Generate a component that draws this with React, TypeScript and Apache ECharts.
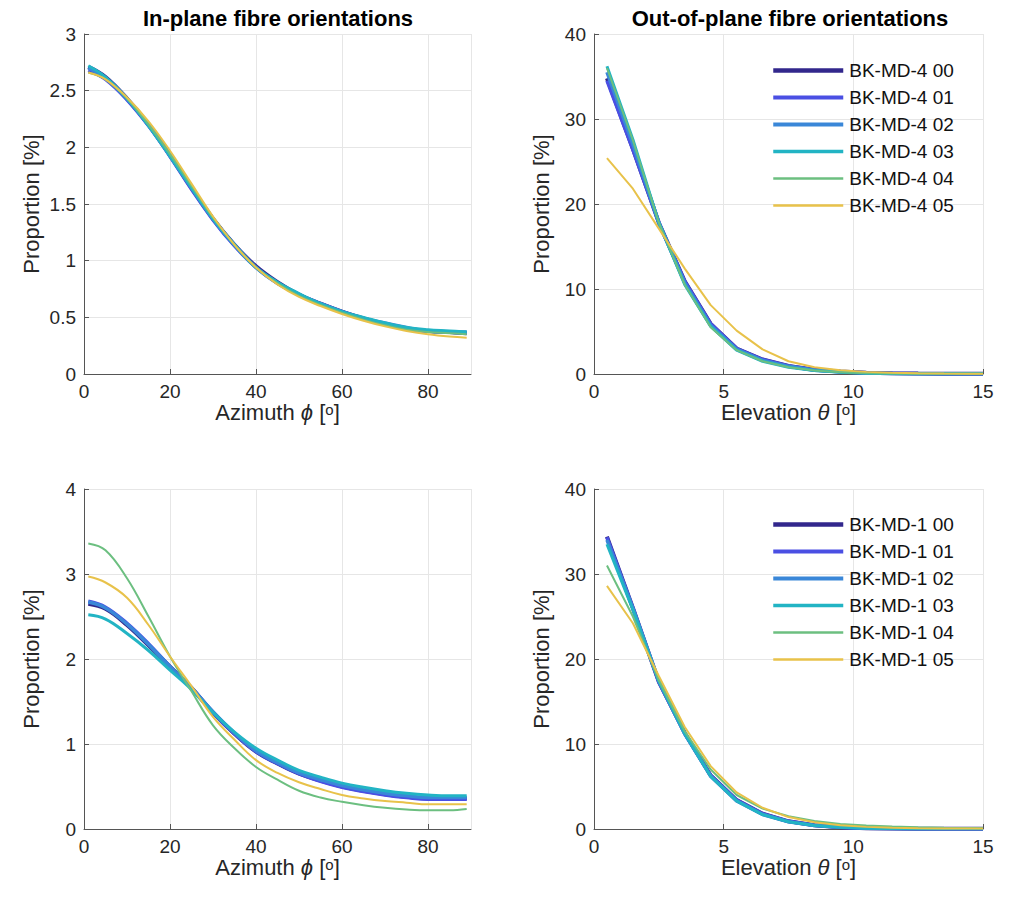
import React, { useEffect, useRef } from "react";
import * as echarts from "echarts";

// ---------- data ----------
const azimuth = [1, 5, 10, 15, 20, 25, 30, 35, 40, 45, 50, 55, 60, 65, 70, 75, 80, 85, 89];
const elevation = [0.5, 1.5, 2.5, 3.5, 4.5, 5.5, 6.5, 7.5, 8.5, 9.5, 10.5, 11.5, 12.5, 13.5, 14.5, 15];

const md4Names = ["BK-MD-4 00", "BK-MD-4 01", "BK-MD-4 02", "BK-MD-4 03", "BK-MD-4 04", "BK-MD-4 05"];
const md1Names = ["BK-MD-1 00", "BK-MD-1 01", "BK-MD-1 02", "BK-MD-1 03", "BK-MD-1 04", "BK-MD-1 05"];

// In-plane, BK-MD-4
const md4In00 = [2.71, 2.62, 2.43, 2.2, 1.93, 1.64, 1.37, 1.14, 0.95, 0.81, 0.7, 0.62, 0.55, 0.49, 0.44, 0.4, 0.38, 0.37, 0.36];
const md4In01 = [2.68, 2.6, 2.42, 2.19, 1.92, 1.63, 1.36, 1.13, 0.94, 0.8, 0.7, 0.62, 0.55, 0.49, 0.44, 0.4, 0.38, 0.37, 0.36];
const md4In02 = [2.7, 2.61, 2.43, 2.2, 1.93, 1.65, 1.37, 1.14, 0.94, 0.8, 0.7, 0.62, 0.55, 0.49, 0.45, 0.41, 0.38, 0.37, 0.37];
const md4In03 = [2.72, 2.62, 2.43, 2.19, 1.92, 1.64, 1.37, 1.14, 0.94, 0.81, 0.71, 0.62, 0.55, 0.5, 0.45, 0.41, 0.39, 0.38, 0.37];
const md4In04 = [2.66, 2.6, 2.43, 2.2, 1.94, 1.66, 1.38, 1.14, 0.94, 0.8, 0.69, 0.61, 0.54, 0.48, 0.43, 0.39, 0.37, 0.36, 0.35];
const md4In05 = [2.66, 2.6, 2.44, 2.23, 1.97, 1.68, 1.39, 1.14, 0.94, 0.79, 0.68, 0.6, 0.53, 0.47, 0.42, 0.38, 0.35, 0.33, 0.32];

// Out-of-plane, BK-MD-4
const md4Out00 = [34.8, 26.5, 17.8, 10.9, 5.9, 3.0, 1.7, 0.95, 0.5, 0.3, 0.15, 0.08, 0.05, 0.03, 0.02, 0.02];
const md4Out01 = [34.5, 26.4, 17.8, 10.9, 5.9, 3.0, 1.7, 0.95, 0.5, 0.3, 0.15, 0.08, 0.05, 0.03, 0.02, 0.02];
const md4Out02 = [35.5, 27.0, 17.8, 10.7, 5.7, 2.9, 1.6, 0.9, 0.45, 0.25, 0.12, 0.07, 0.04, 0.03, 0.02, 0.02];
const md4Out03 = [36.2, 27.6, 17.8, 10.5, 5.6, 2.8, 1.5, 0.8, 0.4, 0.2, 0.1, 0.06, 0.04, 0.03, 0.02, 0.02];
const md4Out04 = [36.0, 27.5, 17.8, 10.5, 5.5, 2.8, 1.5, 0.8, 0.4, 0.2, 0.1, 0.06, 0.04, 0.03, 0.02, 0.02];
const md4Out05 = [25.4, 21.8, 17.1, 12.4, 8.1, 5.1, 2.9, 1.5, 0.8, 0.45, 0.25, 0.15, 0.08, 0.05, 0.04, 0.03];

// In-plane, BK-MD-1
const md1In00 = [2.65, 2.59, 2.4, 2.16, 1.91, 1.66, 1.37, 1.12, 0.91, 0.77, 0.65, 0.57, 0.5, 0.45, 0.41, 0.38, 0.36, 0.36, 0.36];
const md1In01 = [2.68, 2.61, 2.42, 2.18, 1.91, 1.66, 1.37, 1.12, 0.91, 0.77, 0.65, 0.56, 0.49, 0.44, 0.4, 0.37, 0.35, 0.35, 0.35];
const md1In02 = [2.67, 2.6, 2.41, 2.17, 1.91, 1.66, 1.38, 1.13, 0.92, 0.78, 0.66, 0.58, 0.51, 0.46, 0.42, 0.39, 0.37, 0.37, 0.37];
const md1In03 = [2.52, 2.47, 2.3, 2.1, 1.87, 1.64, 1.37, 1.14, 0.95, 0.81, 0.69, 0.61, 0.54, 0.49, 0.45, 0.42, 0.4, 0.39, 0.39];
const md1In04 = [3.36, 3.28, 2.95, 2.5, 2.03, 1.62, 1.22, 0.95, 0.73, 0.58, 0.45, 0.37, 0.32, 0.28, 0.25, 0.23, 0.22, 0.22, 0.235];
const md1In05 = [2.97, 2.9, 2.72, 2.4, 2.03, 1.68, 1.32, 1.05, 0.81, 0.66, 0.55, 0.47, 0.4, 0.36, 0.33, 0.31, 0.29, 0.29, 0.29];

// Out-of-plane, BK-MD-1
const md1Out00 = [34.4, 26.0, 17.3, 11.3, 6.3, 3.4, 1.8, 0.9, 0.45, 0.2, 0.1, 0.06, 0.04, 0.03, 0.02, 0.02];
const md1Out01 = [34.3, 26.0, 17.3, 11.2, 6.3, 3.4, 1.8, 0.9, 0.45, 0.2, 0.1, 0.06, 0.04, 0.03, 0.02, 0.02];
const md1Out02 = [34.0, 26.0, 17.4, 11.2, 6.2, 3.3, 1.7, 0.85, 0.4, 0.2, 0.1, 0.06, 0.04, 0.03, 0.02, 0.02];
const md1Out03 = [33.5, 25.8, 17.4, 11.2, 6.2, 3.3, 1.7, 0.85, 0.4, 0.2, 0.1, 0.06, 0.04, 0.03, 0.02, 0.02];
const md1Out04 = [31.0, 25.0, 17.5, 11.5, 7.0, 4.0, 2.4, 1.5, 0.95, 0.6, 0.4, 0.28, 0.2, 0.15, 0.12, 0.1];
const md1Out05 = [28.6, 24.2, 18.0, 12.0, 7.4, 4.3, 2.5, 1.4, 0.8, 0.45, 0.25, 0.15, 0.1, 0.07, 0.05, 0.05];

const colors = ["#32278c", "#4a4fe3", "#3a87d8", "#22b4c4", "#6cbf80", "#e8c24a"];
const widths = [4, 3.5, 3.5, 3, 2, 2];

const titles = ["In-plane fibre orientations", "Out-of-plane fibre orientations"];

// ---------- layout ----------
const FONT = "'Liberation Sans', Arial, Helvetica, sans-serif";
const TXT = "#262626";
const grids = [
  { left: 84, top: 34, width: 387, height: 340 },
  { left: 594, top: 34, width: 389, height: 340 },
  { left: 84, top: 489, width: 387, height: 340 },
  { left: 594, top: 489, width: 389, height: 340 },
];

const nameRich = {
  n: { fontSize: 22, color: TXT, fontFamily: FONT },
  i: { fontSize: 22, color: TXT, fontFamily: FONT, fontStyle: "italic" },
  s: { fontSize: 15, color: TXT, fontFamily: FONT, verticalAlign: "top", lineHeight: 14, padding: [0, 0, 10, 0] },
};

function xAxisOpt(gridIndex: number, max: number, interval: number, nameText: string) {
  return {
    type: "value",
    gridIndex,
    min: 0,
    max,
    interval,
    name: nameText,
    nameLocation: "middle",
    nameGap: 18,
    nameTextStyle: { rich: nameRich },
    axisLine: { show: true, onZero: false, lineStyle: { color: "#555", width: 1 } },
    axisTick: { show: true, inside: true, length: 5, lineStyle: { color: "#555" } },
    axisLabel: { showMaxLabel: max % interval === 0, fontSize: 19, color: TXT, fontFamily: FONT, margin: 8 },
    splitLine: { show: true, lineStyle: { color: "#e6e6e6", width: 1 } },
  };
}

function yAxisOpt(gridIndex: number, max: number, interval: number) {
  return {
    type: "value",
    gridIndex,
    min: 0,
    max,
    interval,
    name: "Proportion [%]",
    nameLocation: "middle",
    nameGap: 42,
    nameTextStyle: { fontSize: 22, color: TXT, fontFamily: FONT },
    axisLine: { show: true, lineStyle: { color: "#555", width: 1 } },
    axisTick: { show: true, inside: true, length: 5, lineStyle: { color: "#555" } },
    axisLabel: { fontSize: 19, color: TXT, fontFamily: FONT, margin: 8 },
    splitLine: { show: true, lineStyle: { color: "#e6e6e6", width: 1 } },
  };
}

function mkSeries(names: string[], xs: number[], ys: number[][], axisIndex: number, smooth: boolean | number) {
  return ys.map((arr, k) => ({
    name: names[k],
    type: "line",
    xAxisIndex: axisIndex,
    yAxisIndex: axisIndex,
    data: xs.map((x, j) => [x, arr[j]]),
    showSymbol: false,
    symbol: "none",
    smooth,
    color: colors[k],
    lineStyle: { color: colors[k], width: widths[k] },
    emphasis: { disabled: true },
  }));
}

function legendData(names: string[]) {
  return names.map((n, k) => ({ name: n, lineStyle: { color: colors[k], width: widths[k] + 0.5 } }));
}

export default function App() {
  const ref = useRef<HTMLDivElement>(null);
  useEffect(() => {
    if (!ref.current) return;
    const chart = echarts.init(ref.current, undefined, { renderer: "svg" });
    const azName = "{n|Azimuth }{i|ϕ}{n| [}{s|o}{n|]}";
    const elName = "{n|Elevation }{i|θ}{n| [}{s|o}{n|]}";
    const legendCommon = {
      orient: "vertical",
      left: 771,
      padding: 0,
      itemWidth: 70,
      itemHeight: 17,
      itemGap: 8,
      itemStyle: { opacity: 0 },
      textStyle: { fontSize: 19, color: "#111", fontFamily: FONT, padding: [0, 0, 0, 1] },
      selectedMode: false,
    };
    chart.setOption({
      animation: false,
      backgroundColor: "#ffffff",
      grid: grids,
      xAxis: [
        xAxisOpt(0, 90, 20, azName),
        xAxisOpt(1, 15, 5, elName),
        xAxisOpt(2, 90, 20, azName),
        xAxisOpt(3, 15, 5, elName),
      ],
      yAxis: [yAxisOpt(0, 3, 0.5), yAxisOpt(1, 40, 10), yAxisOpt(2, 4, 1), yAxisOpt(3, 40, 10)],
      legend: [
        { ...legendCommon, top: 61, data: legendData(md4Names) },
        { ...legendCommon, top: 515, data: legendData(md1Names) },
      ],
      graphic: [
        {
          type: "text",
          x: 278,
          y: 18,
          style: { text: titles[0], fontSize: 22, fontWeight: "bold", fontFamily: FONT, fill: "#000", textAlign: "center", textVerticalAlign: "middle" },
        },
        {
          type: "text",
          x: 790,
          y: 18,
          style: { text: titles[1], fontSize: 22, fontWeight: "bold", fontFamily: FONT, fill: "#000", textAlign: "center", textVerticalAlign: "middle" },
        },
      ],
      series: [
        ...mkSeries(md4Names, azimuth, [md4In00, md4In01, md4In02, md4In03, md4In04, md4In05], 0, 0.4),
        ...mkSeries(md4Names, elevation, [md4Out00, md4Out01, md4Out02, md4Out03, md4Out04, md4Out05], 1, false),
        ...mkSeries(md1Names, azimuth, [md1In00, md1In01, md1In02, md1In03, md1In04, md1In05], 2, 0.4),
        ...mkSeries(md1Names, elevation, [md1Out00, md1Out01, md1Out02, md1Out03, md1Out04, md1Out05], 3, false),
      ],
    });
    return () => chart.dispose();
  }, []);
  return <div ref={ref} style={{ position: "absolute", left: 0, top: 0, width: 1010, height: 910 }} />;
}
